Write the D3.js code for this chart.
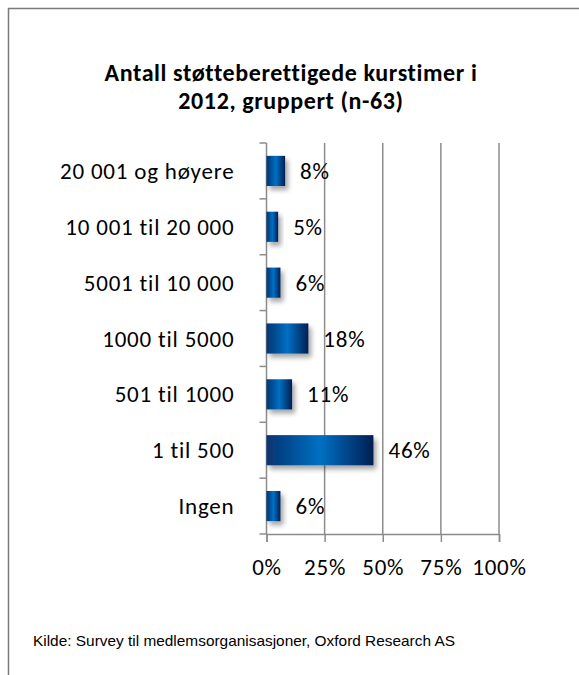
<!DOCTYPE html>
<html>
<head>
<meta charset="utf-8">
<script src="https://cdn.jsdelivr.net/npm/d3@7"></script>
<style>
  body { margin: 0; background: #fff; }
  svg { display: block; }
</style>
</head>
<body>
<svg id="chart" width="579" height="675"></svg>
<script>
// data
const categories = ["20 001 og høyere", "10 001 til 20 000", "5001 til 10 000", "1000 til 5000", "501 til 1000", "1 til 500", "Ingen"];
const values = [0.08, 0.05, 0.06, 0.18, 0.11, 0.46, 0.06];
const xTicks = [0, 0.25, 0.5, 0.75, 1];
const titleLines = ["Antall støtteberettigede kurstimer i", "2012, gruppert (n-63)"];
const source = "Kilde: Survey til medlemsorganisasjoner, Oxford Research AS";

const svg = d3.select("#chart");
const font = "Carlito, Lato, sans-serif";
const fs = 23, ls = 0.8;

// frame
svg.append("path")
  .attr("d", "M8.5,680 V8.5 H585")
  .attr("fill", "none")
  .attr("stroke", "#7a7a7a")
  .attr("stroke-width", 1.5);

const defs = svg.append("defs");
const grad = defs.append("linearGradient").attr("id", "barGrad")
  .attr("x1", "0%").attr("x2", "100%").attr("y1", "0%").attr("y2", "0%");
grad.append("stop").attr("offset", "0%").attr("stop-color", "#08336f");
grad.append("stop").attr("offset", "50%").attr("stop-color", "#0070c4");
grad.append("stop").attr("offset", "100%").attr("stop-color", "#061f52");

const shadow = defs.append("filter").attr("id", "shadow")
  .attr("x", "-50%").attr("y", "-50%").attr("width", "200%").attr("height", "200%");
shadow.append("feGaussianBlur").attr("in", "SourceAlpha").attr("stdDeviation", 2.5);
shadow.append("feOffset").attr("dx", 3).attr("dy", 4).attr("result", "off");
shadow.append("feComponentTransfer").append("feFuncA").attr("type", "linear").attr("slope", 0.35);
const merge = shadow.append("feMerge");
merge.append("feMergeNode");
merge.append("feMergeNode").attr("in", "SourceGraphic");

// scales
const x = d3.scaleLinear().domain([0, 1]).range([266.5, 499]);
const y = d3.scaleBand().domain(categories).range([143, 534]).paddingInner(0.46).paddingOuter(0.23);
const yEdges = d3.range(categories.length + 1).map(i => 143 + i * (534 - 143) / categories.length);

// title
svg.append("text")
  .attr("x", 291).attr("y", 81)
  .attr("text-anchor", "middle")
  .attr("font-family", font).attr("font-weight", "bold").attr("font-size", 24)
  .attr("letter-spacing", 0.6)
  .selectAll("tspan").data(titleLines).join("tspan")
  .attr("x", 291).attr("dy", (d, i) => i ? 28 : 0)
  .text(d => d);

// gridlines
svg.append("g").selectAll("line").data(xTicks.slice(1)).join("line")
  .attr("x1", d => x(d)).attr("x2", d => x(d))
  .attr("y1", 143).attr("y2", 534)
  .attr("stroke", "#8c8c8c").attr("stroke-width", 1.5);

// x axis
const xAxis = svg.append("g").attr("transform", "translate(0,534)")
  .call(d3.axisBottom(x).tickValues(xTicks).tickFormat(d3.format(".0%")).tickSize(8).tickPadding(17));
xAxis.select(".domain").attr("stroke", "#8c8c8c").attr("stroke-width", 1.5);
xAxis.selectAll(".tick line").attr("stroke", "#8c8c8c").attr("stroke-width", 1.5);
xAxis.selectAll("text").attr("font-family", font).attr("font-size", fs)
  .attr("letter-spacing", ls).attr("fill", "#000");

// y axis
const yAxis = svg.append("g").attr("transform", "translate(266.5,0)");
yAxis.append("line").attr("y1", 143).attr("y2", 534)
  .attr("stroke", "#8c8c8c").attr("stroke-width", 1.5);
yAxis.selectAll(".tk").data(yEdges).join("line").attr("class", "tk")
  .attr("x1", -7).attr("x2", 0).attr("y1", d => d).attr("y2", d => d)
  .attr("stroke", "#8c8c8c").attr("stroke-width", 1.5);
yAxis.selectAll("text").data(categories).join("text")
  .attr("x", -32).attr("y", d => y(d) + y.bandwidth() / 2)
  .attr("dy", "0.35em").attr("text-anchor", "end")
  .attr("font-family", font).attr("font-size", fs).attr("letter-spacing", ls).attr("fill", "#000")
  .text(d => d);

// bars
svg.append("g").selectAll("rect").data(values).join("rect")
  .attr("x", x(0)).attr("y", (d, i) => y(categories[i]))
  .attr("width", d => x(d) - x(0)).attr("height", y.bandwidth())
  .attr("fill", "url(#barGrad)").attr("filter", "url(#shadow)");

// value labels
svg.append("g").selectAll("text").data(values).join("text")
  .attr("x", d => x(d) + 15).attr("y", (d, i) => y(categories[i]) + y.bandwidth() / 2)
  .attr("dy", "0.35em")
  .attr("font-family", font).attr("font-size", fs).attr("letter-spacing", ls).attr("fill", "#000")
  .text(d => Math.round(d * 100) + "%");

// source
svg.append("text")
  .attr("x", 33).attr("y", 646)
  .attr("font-family", "'Liberation Sans', Arial, sans-serif").attr("font-size", 15)
  .attr("textLength", 422).attr("lengthAdjust", "spacingAndGlyphs")
  .text(source);
</script>
</body>
</html>
